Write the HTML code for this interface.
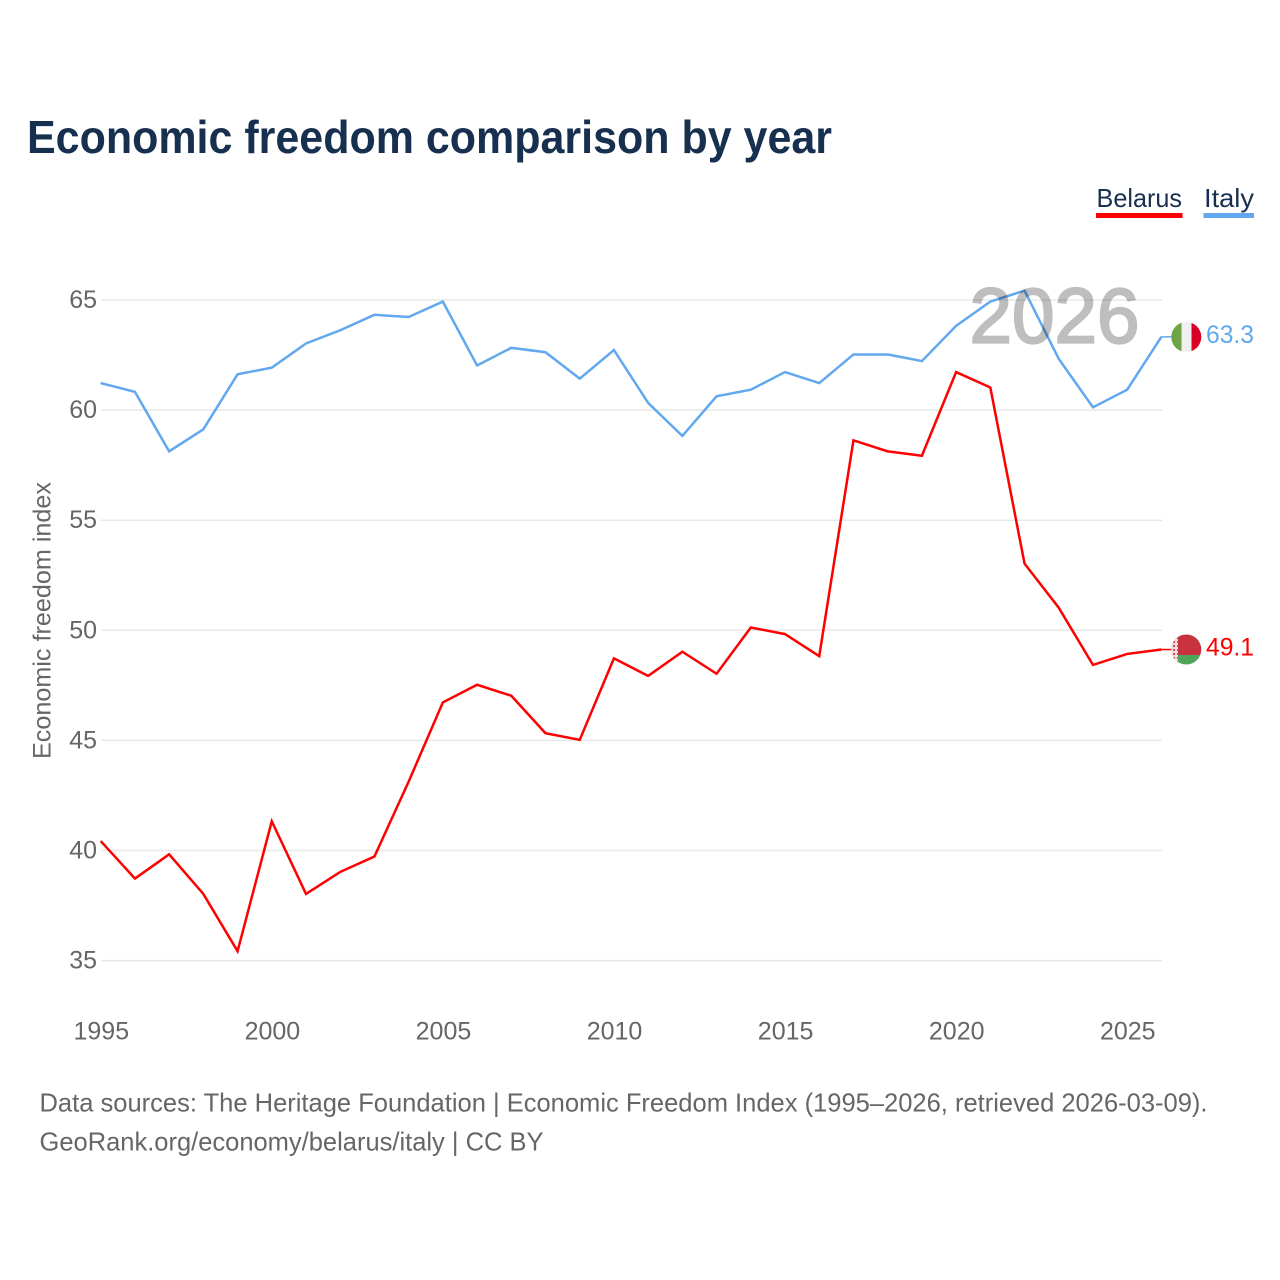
<!DOCTYPE html>
<html lang="en">
<head>
<meta charset="utf-8">
<title>Economic freedom comparison by year</title>
<style>
html,body{margin:0;padding:0;background:#fff;width:1280px;height:1280px;overflow:hidden}
svg{display:block}
text{font-family:"Liberation Sans",sans-serif}
</style>
</head>
<body>
<svg id="chart" xmlns="http://www.w3.org/2000/svg" width="1280" height="1280" viewBox="0 0 1280 1280">
  <defs>
    <clipPath id="clip-italy"><circle cx="1186.3" cy="337" r="15"/></clipPath>
    <clipPath id="clip-belarus"><circle cx="1186.3" cy="649.5" r="15"/></clipPath>
    <pattern id="ornament" width="4" height="4" patternUnits="userSpaceOnUse">
      <rect width="4" height="4" fill="#f4dcdc"/>
      <rect x="1" y="1" width="2" height="2" fill="#d0535c"/>
    </pattern>
  </defs>
  <rect width="1280" height="1280" fill="#fff"/>
  <text x="27" y="153" font-size="46" font-weight="700" fill="#18304f" textLength="805" lengthAdjust="spacingAndGlyphs">Economic freedom comparison by year</text>

  <g>
    <text x="1096.5" y="207" font-size="26" fill="#18304f" textLength="85.5" lengthAdjust="spacingAndGlyphs">Belarus</text>
    <rect x="1096" y="213" width="86.5" height="5" fill="#ff0000"/>
  </g>
  <g>
    <text x="1204" y="207" font-size="26" fill="#18304f" textLength="50" lengthAdjust="spacingAndGlyphs">Italy</text>
    <rect x="1203.5" y="213" width="50.5" height="5" fill="#62a8ee"/>
  </g>

  <g id="grid"></g>
  <g id="y-ticks"></g>
  <g id="x-ticks"></g>
  <text transform="translate(50.5,620.5) rotate(-90)" text-anchor="middle" font-size="25" fill="#666" textLength="277" lengthAdjust="spacingAndGlyphs">Economic freedom index</text>

  <g id="series" transform="translate(-0.3,-0.6)"></g>

  <text x="969.5" y="342.5" font-size="78" font-weight="400" fill="#000" stroke="#000" stroke-width="2.2" opacity="0.25" textLength="170" lengthAdjust="spacingAndGlyphs">2026</text>

  <g clip-path="url(#clip-italy)">
    <rect x="1171" y="321" width="11" height="32" fill="#6da544"/>
    <rect x="1181.5" y="321" width="10" height="32" fill="#f0f0f0"/>
    <rect x="1191.5" y="321" width="11" height="32" fill="#d80027"/>
  </g>
  <g clip-path="url(#clip-belarus)">
    <rect x="1171" y="634" width="32" height="21" fill="#c8323f"/>
    <rect x="1171" y="655" width="32" height="11" fill="#4ea65a"/>
    <rect x="1171" y="634" width="7" height="32" fill="url(#ornament)"/>
  </g>
  <text x="1206" y="343" font-size="25" fill="#62a8ee" textLength="48" lengthAdjust="spacingAndGlyphs">63.3</text>
  <text x="1206" y="655.5" font-size="25" fill="#ff0000" textLength="48" lengthAdjust="spacingAndGlyphs">49.1</text>

  <text x="39.5" y="1111.5" font-size="26" fill="#666" textLength="1168" lengthAdjust="spacingAndGlyphs">Data sources: The Heritage Foundation | Economic Freedom Index (1995–2026, retrieved 2026-03-09).</text>
  <text x="39.5" y="1150.5" font-size="26" fill="#666" textLength="504" lengthAdjust="spacingAndGlyphs">GeoRank.org/economy/belarus/italy | CC BY</text>
</svg>
<script>
const years = [1995,1996,1997,1998,1999,2000,2001,2002,2003,2004,2005,2006,2007,2008,2009,2010,2011,2012,2013,2014,2015,2016,2017,2018,2019,2020,2021,2022,2023,2024,2025,2026];
const italyValues = [61.2,60.8,58.1,59.1,61.6,61.9,63.0,63.6,64.3,64.2,64.9,62.0,62.8,62.6,61.4,62.7,60.3,58.8,60.6,60.9,61.7,61.2,62.5,62.5,62.2,63.8,64.9,65.4,62.3,60.1,60.9,63.3];
const belarusValues = [40.4,38.7,39.8,38.0,35.4,41.3,38.0,39.0,39.7,43.1,46.7,47.5,47.0,45.3,45.0,48.7,47.9,49.0,48.0,50.1,49.8,48.8,58.6,58.1,57.9,61.7,61.0,53.0,51.0,48.4,48.9,49.1];
const yTickLabels = [35,40,45,50,55,60,65];
const xTickLabels = [1995,2000,2005,2010,2015,2020,2025];

const NS = 'http://www.w3.org/2000/svg';
function xScale(year) { return 101 + (year - 1995) * (1161.7 - 101) / 31; }
function yScale(value) { return 960.6 - (value - 35) * (960.6 - 300) / 30; }

const gridGroup = document.getElementById('grid');
const yTickGroup = document.getElementById('y-ticks');
yTickLabels.forEach(function (tick) {
  const line = document.createElementNS(NS, 'line');
  line.setAttribute('x1', 101);
  line.setAttribute('x2', 1162);
  line.setAttribute('y1', yScale(tick));
  line.setAttribute('y2', yScale(tick));
  line.setAttribute('stroke', '#e8e8e8');
  line.setAttribute('stroke-width', '1.5');
  
  
  gridGroup.appendChild(line);
  const label = document.createElementNS(NS, 'text');
  label.setAttribute('x', 97);
  label.setAttribute('y', yScale(tick) + 8);
  label.setAttribute('text-anchor', 'end');
  label.setAttribute('font-size', '25');
  label.setAttribute('fill', '#666');
  label.textContent = tick;
  
  
  yTickGroup.appendChild(label);
});

const xTickGroup = document.getElementById('x-ticks');
xTickLabels.forEach(function (tick) {
  const label = document.createElementNS(NS, 'text');
  label.setAttribute('x', xScale(tick) + 0.3);
  label.setAttribute('y', 1039.5);
  label.setAttribute('text-anchor', 'middle');
  label.setAttribute('font-size', '25');
  label.setAttribute('fill', '#666');
  label.textContent = tick;
  
  
  xTickGroup.appendChild(label);
});

function pointString(values) {
  return values.map(function (value, i) {
    return xScale(years[i]).toFixed(2) + ',' + yScale(value).toFixed(2);
  }).join(' ');
}

const seriesGroup = document.getElementById('series');

const belarusLine = document.createElementNS(NS, 'polyline');
belarusLine.setAttribute('points', pointString(belarusValues));
belarusLine.setAttribute('fill', 'none');
belarusLine.setAttribute('stroke', '#ff0000');
belarusLine.setAttribute('stroke-width', '2.5');


seriesGroup.appendChild(belarusLine);

const italyLine = document.createElementNS(NS, 'polyline');
italyLine.setAttribute('points', pointString(italyValues));
italyLine.setAttribute('fill', 'none');
italyLine.setAttribute('stroke', '#62a8ee');
italyLine.setAttribute('stroke-width', '2.5');


seriesGroup.appendChild(italyLine);

const italyConnector = document.createElementNS(NS, 'line');
italyConnector.setAttribute('x1', xScale(2026));
italyConnector.setAttribute('x2', 1172);
italyConnector.setAttribute('y1', yScale(italyValues[italyValues.length - 1]));
italyConnector.setAttribute('y2', yScale(italyValues[italyValues.length - 1]));
italyConnector.setAttribute('stroke', '#62a8ee');
italyConnector.setAttribute('stroke-width', '1.5');


seriesGroup.appendChild(italyConnector);

const belarusConnector = document.createElementNS(NS, 'line');
belarusConnector.setAttribute('x1', xScale(2026));
belarusConnector.setAttribute('x2', 1172);
belarusConnector.setAttribute('y1', yScale(belarusValues[belarusValues.length - 1]));
belarusConnector.setAttribute('y2', yScale(belarusValues[belarusValues.length - 1]));
belarusConnector.setAttribute('stroke', '#ff0000');
belarusConnector.setAttribute('stroke-width', '1.5');


seriesGroup.appendChild(belarusConnector);
</script>
</body>
</html>
